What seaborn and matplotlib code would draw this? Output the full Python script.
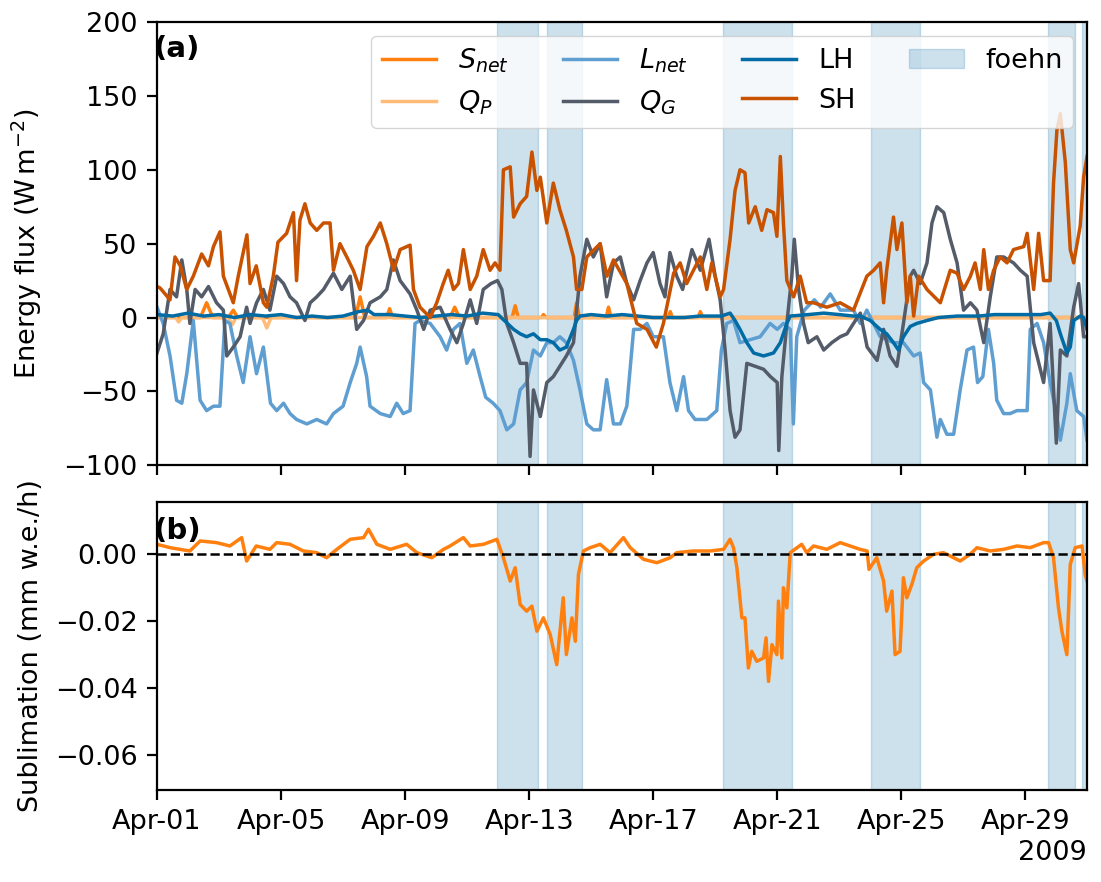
import numpy as np
import pandas as pd
import matplotlib
matplotlib.use("Agg")
import matplotlib.pyplot as plt
import matplotlib.dates as mdates
import seaborn as sns

# time axis: days after 2009-04-01 00:00
start = pd.Timestamp("2009-04-01")

sh_days = [0, 0.1, 0.42, 0.58, 0.75, 0.96, 1.17, 1.44, 1.66, 1.82,
           2.03, 2.14, 2.3, 2.46, 2.62, 2.9, 3.0, 3.2, 3.43, 3.54,
           3.75, 3.9, 4.18, 4.4, 4.5, 4.61, 4.77, 4.94, 5.15, 5.37,
           5.58, 5.69, 5.9, 6.12, 6.33, 6.55, 6.77, 6.98, 7.2, 7.41,
           7.63, 7.84, 8.16, 8.27, 8.48, 8.81, 9.02, 9.23, 9.39, 9.56,
           9.72, 9.88, 10.1, 10.31, 10.52, 10.74, 10.9, 11.06, 11.17, 11.39,
           11.5, 11.71, 11.92, 12.09, 12.25, 12.36, 12.57, 12.78, 12.99, 13.2,
           13.43, 13.53, 13.7, 13.86, 14.29, 14.51, 14.72, 15.15, 15.47, 15.8,
           16.1, 16.33, 16.66, 16.87, 17.08, 17.3, 17.52, 17.73, 17.89, 18.16,
           18.27, 18.48, 18.64, 18.8, 18.96, 19.08, 19.29, 19.5, 19.67, 19.88,
           19.99, 20.1, 20.2, 20.31, 20.53, 20.74, 20.95, 21.17, 21.6, 22.03,
           22.46, 22.89, 23.11, 23.32, 23.43, 23.53, 23.75, 23.86, 24.02, 24.18,
           24.29, 24.4, 24.56, 24.83, 25.26, 25.58, 25.8, 26.01, 26.23, 26.38,
           26.55, 26.66, 26.81, 26.98, 27.19, 27.41, 27.62, 27.95, 28.06, 28.27,
           28.43, 28.59, 28.8, 28.91, 29.02, 29.13, 29.29, 29.45, 29.56, 29.77,
           29.88, 29.99]
sh_vals = [21, 20, 12, 41, 35, 19, 28, 43, 35, 48,
           58, 28, 19, 10, 28, 56, 23, 35, 10, 7,
           28, 51, 57, 71, 25, 66, 77, 64, 59, 64,
           64, 32, 50, 41, 32, 19, 48, 55, 64, 50,
           32, 46, 49, 19, 7, 0, 10, 23, 32, 19,
           23, 46, 19, 28, 46, 32, 37, 32, 100, 102,
           68, 77, 82, 112, 86, 95, 64, 91, 73, 59,
           41, 19, 19, 41, 50, 28, 39, 23, -4, -8,
           -20, -4, 30, 37, 23, 32, 41, 19, 37, 14,
           19, 53, 86, 100, 98, 64, 75, 59, 73, 71,
           55, 109, 64, 25, 14, 28, 10, 10, 7, 10,
           5, 28, 32, 37, 10, 32, 68, 46, 64, 10,
           28, 1, 28, 19, 10, 32, 30, 19, 28, 37,
           19, 46, 19, 32, 41, 37, 46, 48, 57, 19,
           57, 25, 25, 91, 127, 138, 105, 46, 37, 62,
           95, 109]

qg_days = [0, 0.2, 0.42, 0.63, 0.8, 0.96, 1.06, 1.23, 1.44, 1.66,
           1.92, 2.14, 2.25, 2.46, 2.68, 2.89, 3.0, 3.21, 3.43, 3.64,
           3.86, 4.08, 4.29, 4.5, 4.77, 4.94, 5.15, 5.37, 5.69, 5.96,
           6.23, 6.44, 6.66, 6.87, 7.2, 7.41, 7.62, 7.84, 8.16, 8.38,
           8.6, 8.81, 9.13, 9.45, 9.67, 9.88, 10.1, 10.31, 10.52, 10.77,
           10.98, 11.12, 11.28, 11.5, 11.71, 11.92, 12.03, 12.14, 12.36, 12.57,
           12.78, 12.99, 13.2, 13.43, 13.64, 13.86, 14.07, 14.29, 14.5, 14.72,
           14.94, 15.15, 15.37, 15.58, 15.8, 16.0, 16.22, 16.38, 16.54, 16.76,
           16.95, 17.25, 17.52, 17.8, 18.0, 18.16, 18.32, 18.48, 18.64, 18.8,
           19.02, 19.29, 19.56, 19.78, 20.0, 20.05, 20.15, 20.31, 20.47, 20.55,
           20.69, 20.85, 21.0, 21.28, 21.5, 21.76, 22.03, 22.25, 22.46, 22.68,
           22.9, 23.22, 23.43, 23.64, 23.86, 24.07, 24.29, 24.4, 24.61, 24.83,
           24.99, 25.15, 25.37, 25.58, 25.8, 26.01, 26.23, 26.44, 26.66, 26.87,
           27.08, 27.3, 27.62, 27.84, 28.06, 28.27, 28.59, 28.8, 29.0, 29.13,
           29.34, 29.56, 29.72, 29.88, 29.99]
qg_vals = [-24, -11, 19, 14, 39, 19, -4, 19, 14, 21,
           10, 5, -26, -20, -13, 7, -4, 10, 19, 5,
           28, 23, 14, 10, -2, 10, 14, 19, 30, 19,
           28, -8, -2, 10, 14, 19, 39, 25, 16, 5,
           -8, 5, 7, -8, -17, -4, 12, -4, 19, 23,
           25, 19, -4, -17, -31, -31, -94, -49, -67, -44,
           -40, -33, -26, -17, 28, 53, 41, 50, 14, 37,
           41, 23, 12, 25, 37, 44, 23, 14, 44, 28,
           19, 46, 32, 53, 28, 12, -22, -63, -81, -76,
           -31, -33, -35, -40, -44, -90, -40, -4, 28, 53,
           19, -4, -17, -13, -22, -17, -13, -11, -4, 3,
           -20, -29, -8, -26, -33, -4, 28, 32, 23, 37,
           64, 75, 71, 53, 37, 5, 10, 5, -17, 14,
           41, 41, 37, 32, 28, -17, -44, -4, -85, -22,
           -26, 7, 23, -13, -13]

lnet_days = [0, 0.2, 0.42, 0.63, 0.8, 0.96, 1.17, 1.39, 1.6, 1.82,
             2.03, 2.19, 2.35, 2.57, 2.78, 3.0, 3.21, 3.43, 3.66, 3.86,
             4.08, 4.29, 4.5, 4.83, 5.15, 5.47, 5.69, 6.0, 6.23, 6.44,
             6.55, 6.76, 6.87, 7.2, 7.52, 7.73, 7.94, 8.16, 8.32, 8.48,
             8.81, 9.13, 9.34, 9.56, 9.77, 9.99, 10.2, 10.42, 10.6, 10.84,
             11.06, 11.28, 11.5, 11.71, 11.92, 12.14, 12.36, 12.57, 12.78, 12.99,
             13.2, 13.43, 13.64, 13.86, 14.07, 14.29, 14.5, 14.72, 14.94, 15.15,
             15.37, 15.58, 15.8, 16.0, 16.33, 16.54, 16.76, 16.98, 17.14, 17.35,
             17.73, 18.05, 18.2, 18.37, 18.59, 18.8, 19.12, 19.45, 19.77, 20.0,
             20.2, 20.42, 20.52, 20.63, 20.87, 21.2, 21.4, 21.71, 22.03, 22.46,
             22.68, 22.89, 23.32, 23.75, 24.07, 24.4, 24.61, 24.72, 24.94, 25.15,
             25.26, 25.47, 25.69, 25.9, 26.12, 26.33, 26.46, 26.63, 26.81, 26.98,
             27.08, 27.3, 27.51, 27.73, 28.06, 28.16, 28.38, 28.59, 28.8, 29.02,
             29.13, 29.34, 29.45, 29.66, 29.88, 29.99]
lnet_vals = [7, -4, -26, -56, -58, -38, -2, -56, -63, -60,
             -60, -2, -4, -26, -44, -13, -38, -20, -58, -63,
             -58, -65, -69, -72, -69, -72, -65, -60, -44, -31,
             -20, -40, -60, -65, -67, -58, -65, -63, -4, -2,
             -4, -13, -22, -8, -4, -31, -22, -40, -54, -58,
             -63, -76, -72, -49, -44, -22, -26, -17, -17, -13,
             -17, -29, -49, -72, -76, -76, -42, -72, -72, -60,
             -8, -8, -4, -13, -13, -44, -63, -40, -63, -69,
             -69, -63, -22, -4, -2, -17, -15, -13, -4, -8,
             -4, -8, -72, -13, 5, 12, 7, 16, 5, 5,
             -4, 5, -13, -17, -17, -26, -24, -44, -49, -81,
             -69, -79, -79, -49, -22, -20, -44, -40, -8, -31,
             -56, -65, -65, -63, -63, -8, -4, -17, -44, -67,
             -83, -58, -38, -63, -67, -83]

lh_days = [0, 0.5, 1.0, 1.5, 2.0, 2.5, 3.0, 3.5, 4.0, 4.5,
           5.0, 5.5, 6.0, 6.5, 6.8, 7.0, 7.5, 8.0, 8.5, 9.0,
           9.5, 10.0, 10.5, 11.0, 11.2, 11.3, 11.5, 11.71, 11.92, 12.14,
           12.36, 12.57, 12.78, 12.99, 13.2, 13.43, 13.53, 13.64, 14.0, 14.5,
           15.0, 15.5, 16.0, 16.5, 17.0, 17.5, 18.0, 18.2, 18.48, 18.64,
           18.8, 19.02, 19.24, 19.56, 19.88, 20.1, 20.31, 20.42, 21.0, 21.5,
           22.0, 22.46, 22.68, 23.0, 23.32, 23.53, 23.75, 23.91, 24.07, 24.29,
           24.5, 24.83, 25.2, 25.8, 26.5, 27.0, 27.5, 28.0, 28.5, 28.8,
           29.0, 29.13, 29.34, 29.45, 29.56, 29.77, 29.88, 29.99]
lh_vals = [2, 1, 3, 1, 2, 0, 2, 1, 2, 0,
           1, 0, 1, 4, 5, 2, 2, 1, 0, 1,
           2, 1, 3, 2, -2, -4, -8, -11, -13, -11,
           -15, -15, -17, -22, -20, -8, -2, 1, 2, 1,
           2, 1, 0, 0, 0, 1, 1, 1, 3, -2,
           -8, -17, -24, -26, -24, -17, -4, 1, 2, 3,
           2, 1, 1, -2, -8, -11, -17, -22, -13, -6,
           -4, -2, 0, 1, 1, 2, 2, 2, 2, 3,
           -2, -11, -24, -20, -2, 1, 0, -8]

snet_days = [0, 1.4, 1.6, 1.8, 2.3, 2.46, 2.6, 6.4, 6.55, 6.7,
             7.4, 7.5, 7.6, 9.45, 9.6, 9.75, 11.45, 11.55, 11.65, 12.4,
             12.46, 12.55, 13.45, 13.53, 13.62, 14.48, 14.56, 14.64, 16.48, 16.55,
             16.62, 17.45, 17.52, 17.6, 30.0]
snet_vals = [0, 0, 10, 0, 0, 5, 0, 0, 14, 0,
             0, 6, 0, 0, 7, 0, 0, 8, 0, 0,
             2, 0, 0, 10, 0, 0, 7, 0, 0, 4,
             0, 0, 4, 0, 0]

qp_days = [0, 0.6, 0.7, 0.8, 2.3, 2.42, 2.55, 3.4, 3.54, 3.68, 30.0]
qp_vals = [0, 0, -3, 0, 0, -5, 0, 0, -7, 0, 0]

sub_days = [0, 0.42, 1.06, 1.39, 1.92, 2.35, 2.73, 2.89, 3.2, 3.64,
            3.86, 4.29, 4.72, 5.15, 5.47, 5.8, 6.23, 6.66, 6.82, 7.09,
            7.52, 8.05, 8.38, 8.86, 9.24, 9.45, 9.88, 10.1, 10.53, 10.96,
            11.17, 11.39, 11.55, 11.71, 11.92, 12.09, 12.25, 12.46, 12.68, 12.89,
            13.1, 13.2, 13.38, 13.49, 13.59, 13.75, 13.97, 14.29, 14.61, 15.04,
            15.26, 15.69, 16.12, 16.55, 16.76, 17.3, 17.84, 18.27, 18.48, 18.59,
            18.7, 18.86, 18.96, 19.07, 19.18, 19.34, 19.56, 19.64, 19.72, 19.83,
            19.99, 20.04, 20.15, 20.2, 20.31, 20.42, 20.79, 20.95, 21.17, 21.6,
            22.03, 22.35, 22.67, 22.9, 22.96, 23.21, 23.43, 23.53, 23.7, 23.8,
            23.96, 24.07, 24.18, 24.34, 24.5, 24.72, 25.04, 25.36, 25.58, 25.9,
            26.22, 26.44, 26.87, 27.3, 27.73, 28.16, 28.59, 28.75, 28.91, 29.07,
            29.18, 29.34, 29.45, 29.61, 29.83, 29.93, 29.99]
sub_vals = [0.003, 0.002, 0.001, 0.004, 0.0035, 0.0025, 0.005, -0.002, 0.0025, 0.0015,
            0.0035, 0.003, 0.001, 0.0005, -0.001, 0.0015, 0.0045, 0.005, 0.0075, 0.003,
            0.0015, 0.003, 0.0005, -0.001, 0.0015, 0.0025, 0.005, 0.0025, 0.003, 0.0045,
            -0.001, -0.008, -0.004, -0.015, -0.017, -0.0155, -0.023, -0.019, -0.024, -0.033,
            -0.013, -0.030, -0.019, -0.026, -0.006, 0.001, 0.002, 0.003, 0.0005, 0.005,
            0.002, -0.0015, -0.0025, -0.001, 0.0005, 0.001, 0.001, 0.0015, 0.0045, 0.002,
            -0.004, -0.019, -0.019, -0.034, -0.029, -0.032, -0.031, -0.025, -0.038, -0.027,
            -0.030, -0.014, -0.031, -0.010, -0.016, 0.0005, 0.003, 0.0005, 0.0025, 0.0015,
            0.0035, 0.0025, 0.0015, 0.001, -0.0045, -0.001, -0.008, -0.017, -0.011, -0.030,
            -0.029, -0.007, -0.013, -0.009, -0.004, -0.002, 0.0, 0.0005, -0.0005, -0.002,
            0.0, 0.002, 0.001, 0.0015, 0.0025, 0.002, 0.0035, 0.0035, -0.001, -0.016,
            -0.023, -0.030, -0.003, 0.002, 0.0025, -0.006, -0.008]

# foehn periods (start, end) in days
foehn_start = [10.95, 12.57, 18.24, 23.04, 28.74, 29.83]
foehn_end = [12.30, 13.72, 20.48, 24.61, 29.61, 30.0]


def to_time(days):
    return start + pd.to_timedelta(np.asarray(days, dtype=float), unit="D")


plt.rcParams.update({
    "font.size": 19.5,
    "axes.linewidth": 1.6,
    "xtick.major.size": 7, "ytick.major.size": 7,
    "xtick.major.width": 1.6, "ytick.major.width": 1.6,
    "xtick.major.pad": 7, "ytick.major.pad": 7,
    "axes.labelpad": 8,
})

fig, (ax1, ax2) = plt.subplots(2, 1, sharex=True, figsize=(11.01, 8.82), dpi=100,
                               gridspec_kw={"height_ratios": [443, 288]})
fig.subplots_adjust(left=0.1426, right=0.9873, top=0.975, bottom=0.1043, hspace=0.1)

lw = 2.5
sns.lineplot(x=to_time(snet_days), y=snet_vals, ax=ax1, color="#FF800E", lw=lw, label="$S_{net}$")
sns.lineplot(x=to_time(qp_days), y=qp_vals, ax=ax1, color="#FFBC79", lw=lw, label="$Q_P$")
sns.lineplot(x=to_time(lnet_days), y=lnet_vals, ax=ax1, color="#5F9ED1", lw=lw, label="$L_{net}$")
sns.lineplot(x=to_time(qg_days), y=qg_vals, ax=ax1, color="#545B69", lw=lw, label="$Q_G$")
sns.lineplot(x=to_time(lh_days), y=lh_vals, ax=ax1, color="#006BA4", lw=lw, label="LH")
sns.lineplot(x=to_time(sh_days), y=sh_vals, ax=ax1, color="#C85200", lw=lw, label="SH")

sns.lineplot(x=to_time(sub_days), y=sub_vals, ax=ax2, color="#FF800E", lw=lw, legend=False)
ax2.axhline(0, color="k", ls="--", lw=1.8)

for ax in (ax1, ax2):
    for i, (s, e) in enumerate(zip(foehn_start, foehn_end)):
        ax.axvspan(to_time([s])[0], to_time([e])[0], color="#006BA4", alpha=0.2,
                   zorder=0, label="foehn" if i == 0 else None)

ax1.set_ylim(-100, 200)
ax1.set_ylabel(r"Energy flux (W$\,$m$^{-2}$)")
ax2.set_ylim(-0.0705, 0.0157)
ax2.set_yticks([-0.06, -0.04, -0.02, 0.0])
ax2.set_ylabel("Sublimation (mm w.e./h)")
ax2.set_xlim(start, start + pd.Timedelta(days=29.99))

locator = mdates.DayLocator(bymonthday=[1, 5, 9, 13, 17, 21, 25, 29])
formatter = mdates.ConciseDateFormatter(
    locator,
    formats=["%Y", "%b", "%b-%d", "%H:%M", "%H:%M", "%S.%f"],
    zero_formats=["", "%Y", "%b-%d", "%b-%d", "%H:%M", "%H:%M"],
    offset_formats=["", "%Y", "%Y", "%Y", "%Y", "%Y"])
ax2.xaxis.set_major_locator(locator)
ax2.xaxis.set_major_formatter(formatter)
ax1.set_xlabel("")
ax2.set_xlabel("")

ax1.legend(ncol=4, loc="upper right")

ax1.text(-0.004, 0.94, "(a)", transform=ax1.transAxes, fontweight="bold",
         ha="left", va="center", fontsize=21)
ax2.text(-0.004, 0.90, "(b)", transform=ax2.transAxes, fontweight="bold",
         ha="left", va="center", fontsize=21)

fig.align_ylabels([ax1, ax2])
fig.savefig("out.png", dpi=100)
